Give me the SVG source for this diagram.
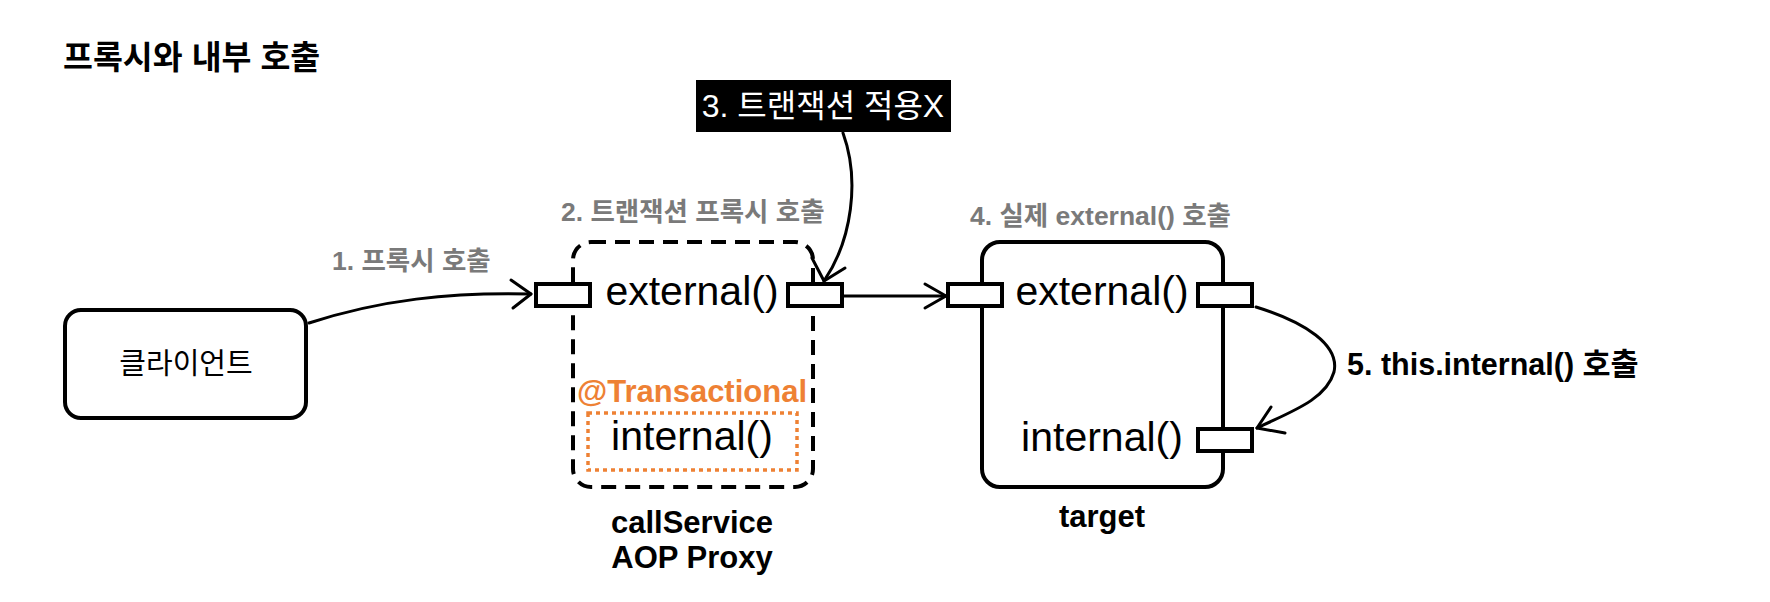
<svg xmlns="http://www.w3.org/2000/svg" width="1770" height="602" viewBox="0 0 1770 602">
<style>
text{font-family:"Liberation Sans","Noto Sans CJK KR",sans-serif;}
.b{font-weight:bold;}
.gray{fill:#7a7a7a;font-size:26.5px;font-weight:bold;}
.m{font-size:41px;fill:#000;text-anchor:middle;}
.lbl{font-size:31px;font-weight:bold;fill:#000;text-anchor:middle;}
.box{fill:#fff;stroke:#000;stroke-width:4;}
.port{fill:#fff;stroke:#000;stroke-width:4;}
.wire{fill:none;stroke:#000;stroke-width:3;stroke-linecap:round;stroke-linejoin:round;}
</style>
<rect width="1770" height="602" fill="#fff"/>
<text x="63" y="69" class="b" font-size="32.5" fill="#000">프록시와 내부 호출</text>

<g id="note3">
<rect x="696" y="80" width="255" height="52" fill="#000"/>
<text x="823" y="117" font-size="32" fill="#fff" text-anchor="middle">3. 트랜잭션 적용X</text>
</g>

<g id="client">
<rect class="box" x="65" y="310" width="241" height="108" rx="16"/>
<text x="186" y="374" font-size="29" fill="#000" text-anchor="middle">클라이언트</text>
</g>

<g id="proxy">
<text x="561" y="221" class="gray">2. 트랜잭션 프록시 호출</text>
<rect x="573" y="242" width="240" height="245" rx="18" fill="none" stroke="#000" stroke-width="4" stroke-dasharray="15 9"/>
<rect class="port" x="536" y="284" width="54" height="22"/>
<rect class="port" x="788" y="284" width="54" height="22"/>
<text class="m" x="692" y="305">external()</text>
<text x="692" y="402" font-size="31" font-weight="bold" fill="#EE8134" text-anchor="middle">@Transactional</text>
<rect x="588" y="413" width="209" height="57" fill="none" stroke="#EE8134" stroke-width="3.5" stroke-dasharray="4 4"/>
<text class="m" x="692" y="450">internal()</text>
<text class="lbl" x="692" y="533">callService</text>
<text class="lbl" x="692" y="568">AOP Proxy</text>
</g>

<g id="target">
<text x="970" y="225" class="gray">4. 실제 external() 호출</text>
<rect class="box" x="982" y="242" width="241" height="245" rx="18"/>
<rect class="port" x="948" y="284" width="54" height="22"/>
<rect class="port" x="1198" y="284" width="54" height="22"/>
<rect class="port" x="1198" y="429" width="54" height="22"/>
<text class="m" x="1102" y="305">external()</text>
<text class="m" x="1102" y="451">internal()</text>
<text class="lbl" x="1102" y="527">target</text>
</g>

<g id="connectors">
<text x="332" y="270" class="gray">1. 프록시 호출</text>
<path class="wire" d="M309,323 C380,300 450,292 531,294"/>
<path class="wire" d="M511,280 L531,294 L513,308"/>
<path class="wire" d="M843,133 C860,180 852,240 824,281"/>
<path class="wire" d="M812,258 L824,281 L845,268"/>
<path class="wire" d="M843,296 L946,296"/>
<path class="wire" d="M925,284 L946,296 L925,308"/>
<path class="wire" d="M1256,307 C1305,322 1340,345 1334,372 C1326,400 1290,412 1257,428"/>
<path class="wire" d="M1271,407 L1257,428 L1285,433"/>
<text x="1347" y="375" class="b" font-size="30.5" fill="#000">5. this.internal() 호출</text>
</g>
</svg>
